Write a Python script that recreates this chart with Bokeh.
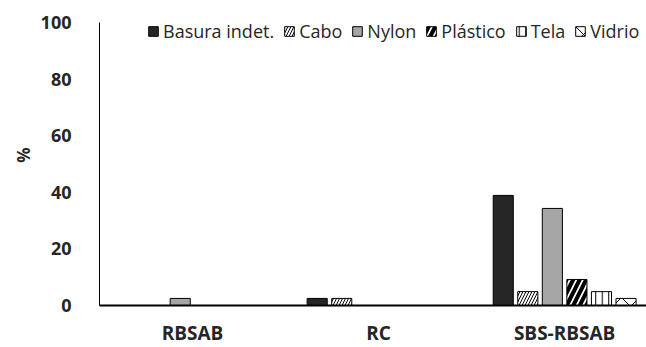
from bokeh.plotting import figure
from bokeh.models import ColumnDataSource, Range1d, FixedTicker, Legend, LegendItem
from bokeh.transform import dodge
from bokeh.embed import file_html
from bokeh.resources import INLINE

categories = ["RBSAB", "RC", "SBS-RBSAB"]
series = ["Basura indet.", "Cabo", "Nylon", "Plástico", "Tela", "Vidrio"]
basura = [0, 2.5, 38.9]
cabo = [0, 2.5, 4.9]
nylon = [2.5, 0, 34.3]
plastico = [0, 0, 9.2]
tela = [0, 0, 4.9]
vidrio = [0, 0, 2.5]
y_ticks = [0, 20, 40, 60, 80, 100]

values = [basura, cabo, nylon, plastico, tela, vidrio]
styles = [
    dict(fill_color="#262626", hatch_pattern=None),
    dict(fill_color="white", hatch_pattern="/", hatch_scale=6, hatch_weight=1, hatch_color="black"),
    dict(fill_color="#a6a6a6", hatch_pattern=None),
    dict(fill_color="white", hatch_pattern="/", hatch_scale=13, hatch_weight=4, hatch_color="black"),
    dict(fill_color="white", hatch_pattern="|", hatch_scale=6.5, hatch_weight=1, hatch_color="black"),
    dict(fill_color="white", hatch_pattern="x", hatch_scale=18, hatch_weight=1, hatch_color="black"),
]

cat_x = [i + 0.5 for i in range(len(categories))]

p = figure(frame_width=547, frame_height=301, output_backend="svg", toolbar_location=None,
           x_range=Range1d(0, 2.94), y_range=Range1d(0, 106.36),
           min_border_left=99, min_border_right=0, min_border_top=4, min_border_bottom=0)
p.outline_line_color = None
p.xgrid.visible = False
p.ygrid.visible = False

step = 0.132
width = 0.108
items = []
for j, (name, vals, st) in enumerate(zip(series, values, styles)):
    src = ColumnDataSource(dict(x=cat_x, top=vals))
    kw = {k: v for k, v in st.items() if v is not None}
    r = p.vbar(x=dodge("x", (j - 2.5) * step, range=p.x_range), top="top", width=width,
               source=src, line_color="black", line_width=1, **kw)
    items.append(LegendItem(label=name, renderers=[r]))

legend = Legend(items=items, orientation="horizontal", location=(48, 262),
                glyph_width=12, glyph_height=12, label_standoff=4, spacing=9,
                padding=0, margin=0, border_line_color=None, background_fill_alpha=0,
                label_text_font="Open Sans", label_text_font_size="18px",
                label_text_color="#262626")
p.add_layout(legend)

p.xaxis.ticker = FixedTicker(ticks=cat_x)
p.xaxis.major_label_overrides = {x: c for x, c in zip(cat_x, categories)}
p.xaxis.major_tick_line_color = None
p.xaxis.minor_tick_line_color = None
p.xaxis.axis_line_color = "black"
p.xaxis.axis_line_width = 2
p.xaxis.major_label_standoff = 8
p.xaxis.major_label_text_font = "Open Sans"
p.xaxis.major_label_text_font_style = "bold"
p.xaxis.major_label_text_font_size = "19px"
p.xaxis.major_label_text_color = "#262626"

p.yaxis.ticker = FixedTicker(ticks=y_ticks)
p.yaxis.bounds = (0, 100)
p.yaxis.major_tick_line_color = None
p.yaxis.minor_tick_line_color = None
p.yaxis.axis_line_color = "black"
p.yaxis.axis_line_width = 1
p.yaxis.major_label_standoff = 22
p.yaxis.major_label_text_font = "Open Sans"
p.yaxis.major_label_text_font_style = "bold"
p.yaxis.major_label_text_font_size = "18px"
p.yaxis.major_label_text_color = "#262626"
p.yaxis.axis_label = "%"
p.yaxis.axis_label_text_font = "Open Sans"
p.yaxis.axis_label_text_font_style = "bold"
p.yaxis.axis_label_text_font_size = "17px"
p.yaxis.axis_label_text_color = "#262626"
p.yaxis.axis_label_standoff = 3

open("out.html", "w").write(file_html(p, INLINE))
